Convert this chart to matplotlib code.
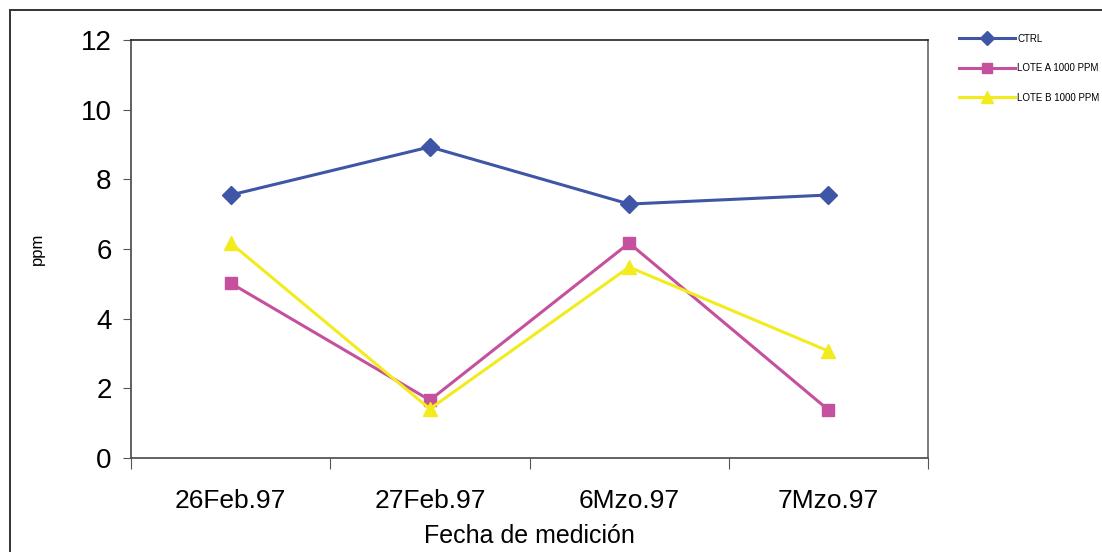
import matplotlib.pyplot as plt
from matplotlib.patches import Rectangle

# datos
fechas = ['26Feb.97', '27Feb.97', '6Mzo.97', '7Mzo.97']
ctrl = [7.55, 8.93, 7.29, 7.55]
lote_a = [5.02, 1.66, 6.17, 1.38]
lote_b = [6.17, 1.41, 5.48, 3.07]

fig = plt.figure(figsize=(11.02, 5.52), dpi=100)
plt.rcParams['font.family'] = ['Liberation Sans', 'DejaVu Sans']

# marco exterior de la figura
fig.patches.append(Rectangle((10 / 1102, -0.1), 1.2, 1 - 10 / 552 + 0.1,
                             transform=fig.transFigure, fill=False,
                             edgecolor='#333333', linewidth=1.4))

ax = fig.add_axes([131 / 1102, 1 - 458 / 552, 797 / 1102, 418 / 552])

x = range(len(fechas))
ax.plot(x, ctrl, color='#3F55A5', marker='D', markersize=9, linewidth=2.2, label='CTRL')
ax.plot(x, lote_a, color='#C5509E', marker='s', markersize=9, linewidth=2.2, label='LOTE A 1000 PPM')
ax.plot(x, lote_b, color='#F2EC1E', marker='^', markersize=10, linewidth=2.2, label='LOTE B 1000 PPM')

ax.set_xlim(-0.5, 3.5)
ax.set_ylim(0, 12)
ax.set_yticks([0, 2, 4, 6, 8, 10, 12])
ax.set_xticks([-0.5, 0.5, 1.5, 2.5, 3.5])
ax.set_xticklabels([])
ax.set_xticks(list(x), minor=True)
ax.set_xticklabels(fechas, minor=True, fontsize=19)
ax.tick_params(axis='x', which='minor', length=0, pad=22)
ax.tick_params(axis='x', which='major', direction='out', length=8, color='#555555')
ax.tick_params(axis='y', direction='out', length=6, color='#555555', labelsize=20, pad=8)

for s in ['left', 'bottom']:
    ax.spines[s].set_color('#555555')
    ax.spines[s].set_linewidth(1.3)
for s in ['top', 'right']:
    ax.spines[s].set_color('#222222')
    ax.spines[s].set_linewidth(1.2)
ax.spines['right'].set_color('#666666')

ax.set_xlabel('Fecha de medición', fontsize=18, labelpad=8)
ax.set_ylabel('ppm', fontsize=12, labelpad=26)

fig.legend(loc='upper left', bbox_to_anchor=(950 / 1102, 1 - 25 / 552),
           frameon=False, fontsize=7, handlelength=5.8, labelspacing=2.0,
           handletextpad=0.2, markerscale=0.8)

fig.savefig('out.png', dpi=100)
